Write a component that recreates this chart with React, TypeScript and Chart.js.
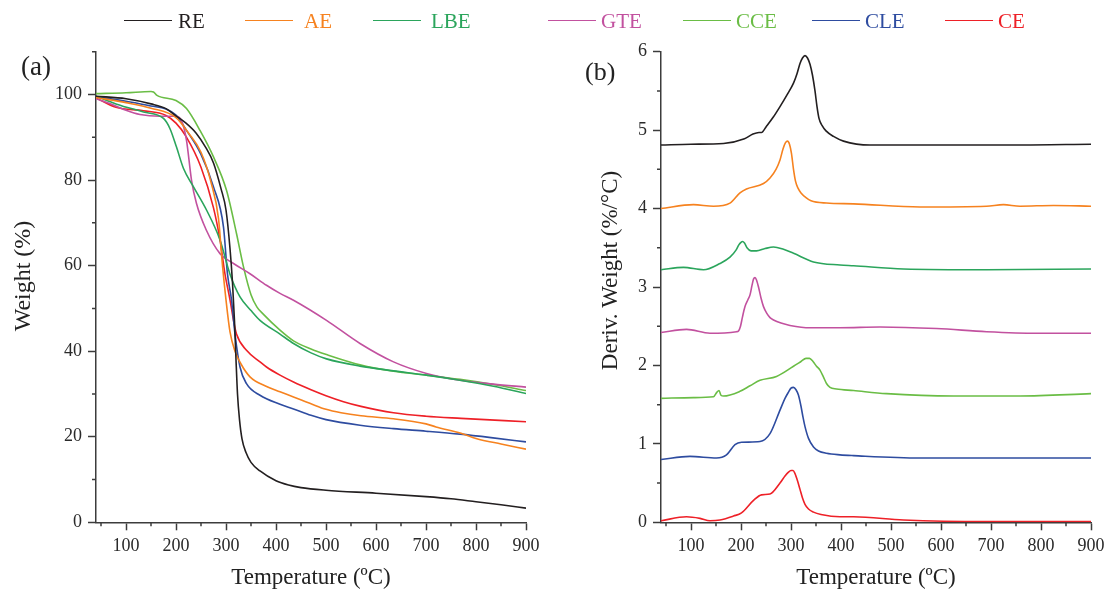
import React, { useEffect, useRef } from 'react';
import { Chart, registerables } from 'chart.js';

Chart.register(...registerables);

// ---------------- data ----------------
const SERIES_NAMES = ['RE', 'AE', 'LBE', 'GTE', 'CCE', 'CLE', 'CE'];
const SERIES_COLORS = ['#231f20', '#f6821f', '#2ba55c', '#c2519f', '#6abd45', '#2e4ca0', '#ee2027'];

// (a) TGA: temperature (°C) and weight (%)
const RE_TGA_T = [40, 100, 150, 180, 200, 220, 240, 260, 275, 290, 300, 308, 313, 317, 320, 323, 327, 332, 340, 350, 368, 400, 425, 450, 500, 600, 700, 750, 800, 850, 900];
const RE_TGA_W = [99.6, 99.0, 97.8, 96.7, 95.0, 93.3, 91.0, 87.5, 84.0, 78.0, 73.0, 64.0, 56.0, 47.0, 38.0, 30.0, 24.0, 19.5, 16.3, 14.0, 12.0, 9.7, 8.7, 8.1, 7.5, 6.8, 6.0, 5.5, 4.8, 4.1, 3.3];

const AE_TGA_T = [40, 100, 150, 200, 225, 250, 270, 285, 293, 300, 308, 318, 330, 348, 380, 408, 435, 470, 500, 530, 570, 635, 700, 720, 770, 800, 850, 900];
const AE_TGA_W = [99.3, 98.1, 96.8, 94.6, 91.0, 86.5, 79.5, 71.0, 60.0, 52.0, 44.5, 40.0, 37.0, 34.0, 31.8, 30.5, 29.3, 27.7, 26.4, 25.6, 24.9, 24.2, 23.0, 22.3, 20.8, 19.6, 18.3, 17.1];

const LBE_TGA_T = [40, 80, 135, 175, 188, 201, 215, 235, 261, 288, 308, 328, 350, 368, 408, 435, 470, 501, 568, 635, 701, 768, 835, 900];
const LBE_TGA_W = [99.6, 97.8, 95.9, 94.4, 92.0, 87.7, 82.7, 78.4, 73.0, 66.0, 58.0, 52.7, 49.5, 47.2, 44.0, 41.8, 39.6, 38.2, 36.5, 35.4, 34.4, 33.2, 31.8, 30.1];

const GTE_TGA_T = [40, 70, 100, 128, 168, 200, 211, 221, 231, 241, 261, 288, 315, 348, 381, 408, 435, 501, 568, 635, 701, 768, 835, 900];
const GTE_TGA_W = [99.0, 97.8, 96.3, 95.3, 94.9, 94.9, 93.9, 89.3, 80.0, 74.5, 68.2, 62.8, 60.5, 58.1, 55.4, 53.5, 51.9, 47.2, 41.8, 37.5, 34.8, 33.2, 32.3, 31.6];

const CCE_TGA_T = [40, 100, 150, 155, 162, 200, 221, 248, 275, 301, 321, 335, 350, 362, 375, 408, 435, 470, 501, 568, 635, 701, 768, 835, 900];
const CCE_TGA_W = [100.2, 100.4, 100.7, 100.6, 99.8, 98.6, 96.7, 91.6, 85.4, 77.6, 67.5, 59.7, 53.2, 50.3, 48.6, 44.9, 42.4, 40.5, 39.2, 36.8, 35.3, 34.4, 33.4, 32.2, 30.8];

const CLE_TGA_T = [40, 100, 150, 180, 200, 220, 250, 275, 295, 303, 311, 318, 328, 341, 368, 408, 435, 470, 500, 568, 635, 700, 768, 830, 900];
const CLE_TGA_W = [99.5, 98.4, 97.3, 96.6, 95.2, 91.8, 86.0, 78.4, 69.0, 58.0, 52.0, 44.0, 36.3, 32.4, 29.7, 27.6, 26.5, 25.0, 24.0, 22.7, 21.9, 21.3, 20.6, 19.8, 18.8];

const CE_TGA_T = [40, 80, 135, 180, 200, 220, 250, 275, 288, 298, 308, 315, 321, 341, 368, 381, 408, 435, 470, 500, 535, 570, 635, 700, 770, 900];
const CE_TGA_W = [99.2, 97.0, 96.2, 95.1, 93.3, 90.2, 83.0, 73.5, 66.0, 58.0, 52.0, 47.2, 44.0, 40.2, 37.5, 36.3, 34.4, 32.8, 31.0, 29.6, 28.2, 27.1, 25.6, 24.8, 24.3, 23.5];

// (b) DTG: temperature (°C) and deriv. weight (%/°C)
const RE_DTG_T = [40, 100, 165, 207, 224, 236, 241, 251, 265, 278, 292, 305, 312, 318, 323, 328, 333, 338, 343, 348, 352, 356, 362, 370, 385, 405, 458, 625, 750, 900];
const RE_DTG_D = [4.81, 4.82, 4.83, 4.89, 4.95, 4.97, 4.97, 5.05, 5.17, 5.30, 5.45, 5.60, 5.72, 5.85, 5.92, 5.95, 5.92, 5.84, 5.70, 5.50, 5.30, 5.15, 5.06, 4.99, 4.92, 4.86, 4.81, 4.81, 4.81, 4.82];

const AE_DTG_T = [40, 105, 145, 178, 198, 211, 245, 258, 270, 278, 284, 289, 293, 297, 301, 305, 309, 314, 320, 330, 340, 371, 425, 558, 691, 725, 758, 825, 900];
const AE_DTG_D = [4.00, 4.05, 4.03, 4.07, 4.20, 4.25, 4.32, 4.39, 4.50, 4.62, 4.76, 4.84, 4.86, 4.82, 4.70, 4.50, 4.35, 4.26, 4.20, 4.14, 4.10, 4.07, 4.06, 4.02, 4.03, 4.05, 4.03, 4.04, 4.03];

const LBE_DTG_T = [40, 85, 125, 158, 178, 190, 196, 200, 203, 207, 212, 220, 231, 248, 265, 285, 305, 345, 398, 425, 525, 691, 900];
const LBE_DTG_D = [3.22, 3.25, 3.22, 3.30, 3.38, 3.47, 3.54, 3.57, 3.58, 3.56, 3.50, 3.46, 3.46, 3.49, 3.51, 3.48, 3.43, 3.32, 3.28, 3.27, 3.23, 3.22, 3.23];

const GTE_DTG_T = [40, 91, 138, 191, 195, 199, 203, 208, 214, 218, 222, 225, 228, 231, 235, 240, 245, 252, 258, 265, 280, 298, 338, 398, 478, 591, 691, 791, 900];
const GTE_DTG_D = [2.42, 2.46, 2.41, 2.43, 2.44, 2.50, 2.62, 2.75, 2.84, 2.90, 3.02, 3.10, 3.12, 3.09, 3.00, 2.86, 2.75, 2.66, 2.61, 2.58, 2.54, 2.51, 2.48, 2.48, 2.49, 2.47, 2.43, 2.41, 2.41];

const CCE_DTG_T = [40, 105, 145, 152, 156, 160, 165, 198, 218, 238, 271, 305, 320, 330, 337, 344, 351, 358, 365, 371, 378, 391, 425, 491, 625, 758, 900];
const CCE_DTG_D = [1.58, 1.59, 1.60, 1.66, 1.68, 1.62, 1.61, 1.67, 1.74, 1.81, 1.86, 1.99, 2.05, 2.09, 2.09, 2.05, 1.99, 1.94, 1.85, 1.77, 1.72, 1.70, 1.68, 1.64, 1.61, 1.61, 1.64];

const CLE_DTG_T = [40, 98, 151, 171, 188, 201, 238, 258, 278, 288, 295, 300, 305, 310, 315, 320, 324, 328, 335, 345, 355, 371, 398, 425, 558, 900];
const CLE_DTG_D = [0.80, 0.84, 0.82, 0.86, 0.99, 1.02, 1.03, 1.13, 1.43, 1.58, 1.66, 1.71, 1.72, 1.69, 1.62, 1.48, 1.34, 1.22, 1.07, 0.96, 0.91, 0.88, 0.86, 0.85, 0.82, 0.82];

const CE_DTG_T = [40, 91, 118, 138, 158, 185, 201, 225, 241, 258, 278, 288, 295, 300, 304, 308, 313, 318, 323, 328, 335, 345, 360, 398, 425, 525, 691, 900];
const CE_DTG_D = [0.02, 0.07, 0.05, 0.02, 0.03, 0.08, 0.12, 0.28, 0.35, 0.36, 0.50, 0.59, 0.64, 0.66, 0.66, 0.62, 0.53, 0.42, 0.31, 0.23, 0.17, 0.13, 0.10, 0.07, 0.07, 0.03, 0.01, 0.01];

// tick labels / positions
const X_MAJOR = [100, 200, 300, 400, 500, 600, 700, 800, 900];
const X_MINOR = [50, 150, 250, 350, 450, 550, 650, 750, 850];
const TGA_Y_MAJOR = [0, 20, 40, 60, 80, 100];
const TGA_Y_MINOR = [10, 30, 50, 70, 90, 110];
const DTG_Y_MAJOR = [0, 1, 2, 3, 4, 5, 6];
const DTG_Y_MINOR = [0.5, 1.5, 2.5, 3.5, 4.5, 5.5];

const TGA_T = [RE_TGA_T, AE_TGA_T, LBE_TGA_T, GTE_TGA_T, CCE_TGA_T, CLE_TGA_T, CE_TGA_T];
const TGA_W = [RE_TGA_W, AE_TGA_W, LBE_TGA_W, GTE_TGA_W, CCE_TGA_W, CLE_TGA_W, CE_TGA_W];
const DTG_T = [RE_DTG_T, AE_DTG_T, LBE_DTG_T, GTE_DTG_T, CCE_DTG_T, CLE_DTG_T, CE_DTG_T];
const DTG_D = [RE_DTG_D, AE_DTG_D, LBE_DTG_D, GTE_DTG_D, CCE_DTG_D, CLE_DTG_D, CE_DTG_D];

// ---------------- layout / style ----------------
const FONT = '"Liberation Serif", "Times New Roman", Times, serif';
const AXIS_COLOR = '#3c3c3c';
const TEXT_COLOR = '#2a2a2a';
const TITLE_COLOR = '#222222';
const CANVAS_W = 552;
const CANVAS_H = 592;
const PLOT_TOP = 51.7;
const PLOT_BOTTOM = 522.3;
const LEGEND_LINE_X = [124, 245, 373, 548, 683, 812, 945];
const LEGEND_TEXT_X = [178, 304, 431, 601, 736, 865, 998];

const minorTickPlugin = {
  id: 'minorTicks',
  afterDraw(chart: any, _args: any, opts: any) {
    const { ctx } = chart;
    const xs = chart.scales.x;
    const ys = chart.scales.y;
    ctx.save();
    ctx.strokeStyle = opts.color;
    ctx.lineWidth = opts.width;
    ctx.beginPath();
    for (const v of opts.x || []) {
      const p = xs.getPixelForValue(v);
      ctx.moveTo(p, xs.top);
      ctx.lineTo(p, xs.top + opts.length);
    }
    for (const v of opts.y || []) {
      const p = ys.getPixelForValue(v);
      ctx.moveTo(ys.right, p);
      ctx.lineTo(ys.right - opts.length, p);
    }
    ctx.stroke();
    ctx.restore();
  },
};

// vertical axis title, drawn a little above the plot's middle as in the original
const yTitlePlugin = {
  id: 'yTitle',
  afterDraw(chart: any, _args: any, opts: any) {
    const { ctx, chartArea } = chart;
    ctx.save();
    ctx.translate(opts.x, (chartArea.top + chartArea.bottom) / 2 - opts.shift);
    ctx.rotate(-Math.PI / 2);
    ctx.font = `${opts.size}px ${FONT}`;
    ctx.fillStyle = TITLE_COLOR;
    ctx.textAlign = 'center';
    ctx.textBaseline = 'middle';
    ctx.fillText(opts.text, 0, 0);
    ctx.restore();
  },
};

function makeDatasets(ts: number[][], vs: number[][]) {
  return SERIES_NAMES.map((name, i) => ({
    label: name,
    data: ts[i].map((t, j) => ({ x: t, y: vs[i][j] })),
    borderColor: SERIES_COLORS[i],
    backgroundColor: SERIES_COLORS[i],
    borderWidth: 1.6,
    pointRadius: 0,
    fill: false,
    cubicInterpolationMode: 'monotone' as const,
  }));
}

function makeOptions(p: {
  yMax: number;
  yMajor: number[];
  yMinor: number[];
  yTitle: string;
  yTitleX: number;
  yTitleShift: number;
  yTitleSize: number;
  yWidth: number;
  padRight: number;
}) {
  return {
    responsive: false,
    maintainAspectRatio: false,
    animation: false as const,
    events: [],
    layout: { padding: { left: 0, top: PLOT_TOP, right: p.padRight, bottom: 0 } },
    plugins: {
      legend: { display: false },
      tooltip: { enabled: false },
      minorTicks: { x: X_MINOR, y: p.yMinor, length: 4, color: AXIS_COLOR, width: 1.5 },
      yTitle: { text: p.yTitle, x: p.yTitleX, shift: p.yTitleShift, size: p.yTitleSize },
    },
    scales: {
      x: {
        type: 'linear' as const,
        min: 40,
        max: 900,
        afterBuildTicks: (s: any) => {
          s.ticks = X_MAJOR.map((v) => ({ value: v }));
        },
        afterFit: (s: any) => {
          s.height = CANVAS_H - PLOT_BOTTOM;
          s.paddingLeft = 0;
          s.paddingRight = 0;
        },
        grid: { drawOnChartArea: false, drawTicks: true, tickLength: 8, tickWidth: 1.5, tickColor: AXIS_COLOR },
        border: { display: true, color: AXIS_COLOR, width: 1.5 },
        ticks: { autoSkip: false, maxRotation: 0, padding: 5, color: TEXT_COLOR, font: { family: FONT, size: 18 } },
        title: {
          display: true,
          text: 'Temperature (ºC)',
          color: TITLE_COLOR,
          font: { family: FONT, size: 23, lineHeight: 1 },
          padding: { top: 0, bottom: 2.5 },
        },
      },
      y: {
        type: 'linear' as const,
        min: 0,
        max: p.yMax,
        afterBuildTicks: (s: any) => {
          s.ticks = p.yMajor.map((v) => ({ value: v }));
        },
        afterFit: (s: any) => {
          s.width = p.yWidth;
          s.paddingTop = 0;
          s.paddingBottom = 0;
        },
        grid: { drawOnChartArea: false, drawTicks: true, tickLength: 8, tickWidth: 1.5, tickColor: AXIS_COLOR },
        border: { display: true, color: AXIS_COLOR, width: 1.5 },
        ticks: { autoSkip: false, padding: 6, color: TEXT_COLOR, font: { family: FONT, size: 18 } },
      },
    },
  };
}

export default function App() {
  const leftRef = useRef<HTMLCanvasElement | null>(null);
  const rightRef = useRef<HTMLCanvasElement | null>(null);

  useEffect(() => {
    if (!leftRef.current || !rightRef.current) return;
    const left = new Chart(leftRef.current, {
      type: 'line',
      data: { datasets: makeDatasets(TGA_T, TGA_W) },
      options: makeOptions({
        yMax: 110,
        yMajor: TGA_Y_MAJOR,
        yMinor: TGA_Y_MINOR,
        yTitle: 'Weight (%)',
        yTitleX: 23.5,
        yTitleShift: 11,
        yTitleSize: 24,
        yWidth: 96,
        padRight: 26,
      }) as any,
      plugins: [minorTickPlugin, yTitlePlugin],
    });
    const right = new Chart(rightRef.current, {
      type: 'line',
      data: { datasets: makeDatasets(DTG_T, DTG_D) },
      options: makeOptions({
        yMax: 6,
        yMajor: DTG_Y_MAJOR,
        yMinor: DTG_Y_MINOR,
        yTitle: 'Deriv. Weight (%/°C)',
        yTitleX: 58.5,
        yTitleShift: 16.5,
        yTitleSize: 23,
        yWidth: 109,
        padRight: 13,
      }) as any,
      plugins: [minorTickPlugin, yTitlePlugin],
    });
    return () => {
      left.destroy();
      right.destroy();
    };
  }, []);

  return (
    <div
      style={{
        position: 'fixed',
        left: 0,
        top: 0,
        width: CANVAS_W * 2,
        height: CANVAS_H,
        background: '#ffffff',
        fontFamily: FONT,
        overflow: 'hidden',
      }}
    >
      <canvas
        ref={leftRef}
        width={CANVAS_W}
        height={CANVAS_H}
        style={{ position: 'absolute', left: 0, top: 0, width: CANVAS_W, height: CANVAS_H }}
      />
      <canvas
        ref={rightRef}
        width={CANVAS_W}
        height={CANVAS_H}
        style={{ position: 'absolute', left: CANVAS_W, top: 0, width: CANVAS_W, height: CANVAS_H }}
      />
      {SERIES_NAMES.map((name, i) => (
        <React.Fragment key={name}>
          <div
            style={{
              position: 'absolute',
              left: LEGEND_LINE_X[i],
              top: 20,
              width: 48,
              height: 0,
              borderTop: `1.5px solid ${SERIES_COLORS[i]}`,
            }}
          />
          <span
            style={{
              position: 'absolute',
              left: LEGEND_TEXT_X[i],
              top: 10.7,
              fontSize: 21,
              lineHeight: 1,
              color: SERIES_COLORS[i],
              whiteSpace: 'nowrap',
            }}
          >
            {name}
          </span>
        </React.Fragment>
      ))}
      <span style={{ position: 'absolute', left: 21, top: 53, fontSize: 27, lineHeight: 1, color: TITLE_COLOR }}>(a)</span>
      <span style={{ position: 'absolute', left: 585, top: 59, fontSize: 26, lineHeight: 1, color: TITLE_COLOR }}>(b)</span>
    </div>
  );
}
